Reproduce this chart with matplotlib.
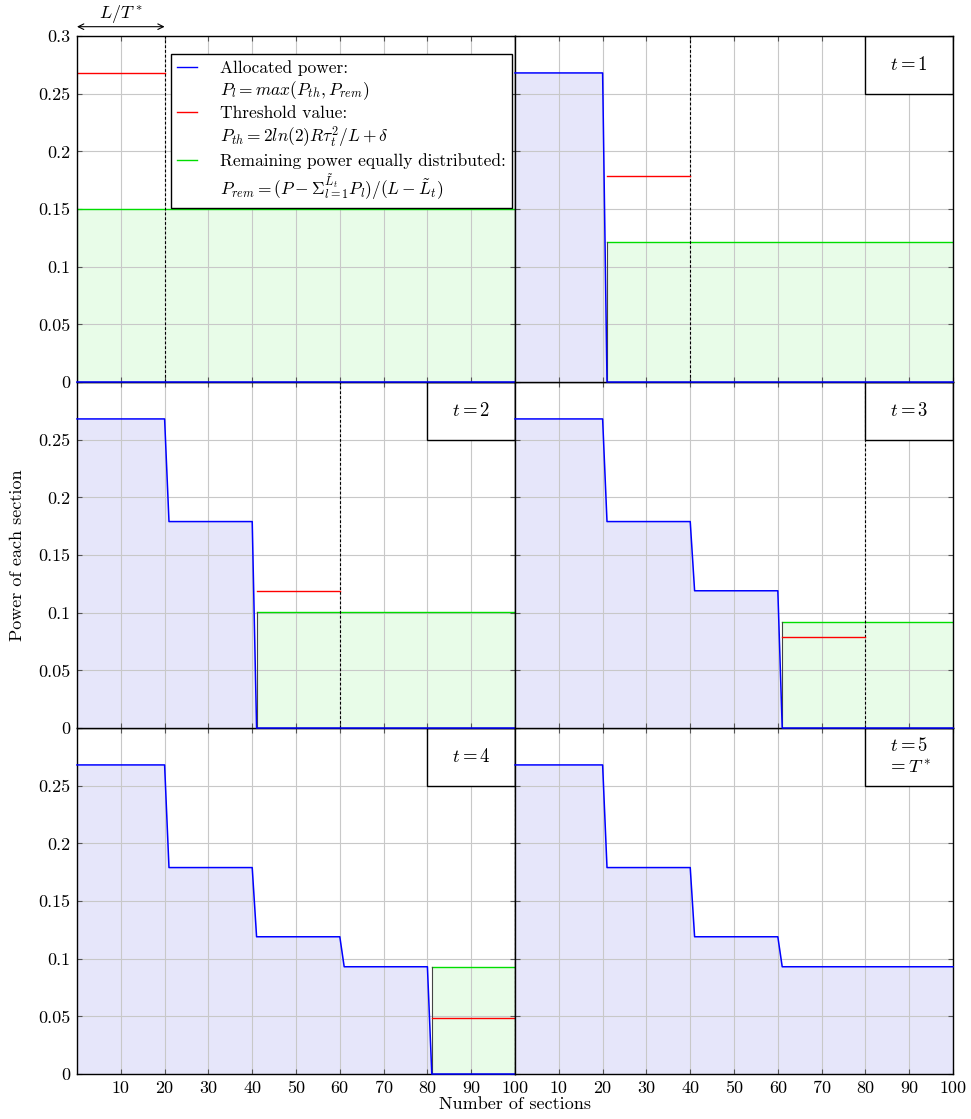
import matplotlib
matplotlib.use("Agg")
import matplotlib.pyplot as plt
import matplotlib.transforms as mtransforms
from matplotlib.lines import Line2D
from matplotlib.patches import Rectangle

plt.rcParams['font.family'] = 'serif'
plt.rcParams['font.serif'] = ['cmr10', 'DejaVu Serif']
plt.rcParams['mathtext.fontset'] = 'cm'
plt.rcParams['axes.unicode_minus'] = False
plt.rcParams['axes.formatter.use_mathtext'] = True

# section borders (every L/T* = 20 sections)
edges = [0, 20, 40, 60, 80, 100]
# allocated power of each block once fixed
p_alloc = [0.268, 0.179, 0.119, 0.093, 0.093]
# threshold and remaining power at each step t
p_th = [0.268, 0.179, 0.119, 0.079, 0.049]
p_rem = [0.150, 0.121, 0.101, 0.092, 0.093]
steps = [0, 1, 2, 3, 4, 5]
step_labels = ['', '$t = 1$', '$t = 2$', '$t = 3$', '$t = 4$', '$t = 5$\n$= T^*$']
xticks = [10, 20, 30, 40, 50, 60, 70, 80, 90, 100]
yticks = [0, 0.05, 0.1, 0.15, 0.2, 0.25, 0.3]
ytick_labels = ['0', '0.05', '0.1', '0.15', '0.2', '0.25', '0.3']

blue = '#0000ff'
red = '#ff0000'
green = '#00dd00'

fig, axes = plt.subplots(3, 2, figsize=(9.71, 11.19), dpi=100)
fig.subplots_adjust(left=0.0793, right=0.9815, top=0.9678, bottom=0.0402,
                    wspace=0, hspace=0)

for t in steps:
    ax = axes[t // 2][t % 2]
    # upper rows on top so their zero line shows over the row below
    ax.set_zorder(10 - t // 2)
    # blue: allocated power so far
    xs, ys = [], []
    for k in range(t):
        start = edges[k] + (1 if k else 0)
        xs += [start, edges[k + 1]]
        ys += [p_alloc[k], p_alloc[k]]
    if t < 5:
        start = edges[t] + (1 if t else 0)
        xs += [start, 100]
        ys += [0, 0]
        # green: remaining power
        ax.fill_between([start, 100], [p_rem[t]] * 2, 0, color='#e8fce8',
                        lw=0, zorder=0.4)
        ax.plot([start, 100], [p_rem[t]] * 2, color=green, lw=1.0, zorder=2)
        ax.plot([start, start], [0, p_rem[t]], color='#444444', lw=0.8, zorder=2)
        # red: threshold
        ax.plot([start, edges[t + 1]], [p_th[t]] * 2, color=red, lw=1.0, zorder=2.2)
        ax.axvline(edges[t + 1], color='black', ls=(0, (2.5, 1.8)), lw=0.8, zorder=2.1)
    ax.fill_between(xs, ys, 0, color='#e6e6fa', lw=0, zorder=0.3)
    ax.plot(xs, ys, color=blue, lw=1.1, zorder=6, clip_on=False)

    ax.set_xlim(0, 100)
    ax.set_ylim(0, 0.3)
    ax.set_xticks(xticks)
    ax.set_yticks(yticks)
    ax.set_axisbelow('line')
    ax.grid(True, color='#c8c8c8', lw=0.8)
    ax.tick_params(direction='in', top=True, right=True, length=3.5,
                   labelsize=13, color='#555555', pad=5)
    for sp in ax.spines.values():
        sp.set_linewidth(1.0)
        sp.set_zorder(5)
    if t % 2 == 0:
        if t == 0:
            ax.set_yticklabels(ytick_labels)
        else:
            ax.set_yticklabels(ytick_labels[:-1] + [''])
    else:
        ax.set_yticklabels([])
    if t < 4:
        ax.set_xticklabels([])
    else:
        ax.set_xticklabels([str(v) for v in xticks])

    if t > 0:
        ax.add_patch(Rectangle((80, 0.25), 20, 0.05, facecolor='white',
                               edgecolor='black', lw=1.0, zorder=4))
        ax.text(90, 0.275, step_labels[t], ha='center', va='center',
                fontsize=13.5, zorder=7, linespacing=1.25)

# legend in the first panel
ax0 = axes[0][0]
none = Line2D([], [], color='none')
handles = [Line2D([], [], color=blue, lw=1.0), none,
           Line2D([], [], color=red, lw=1.0), none,
           Line2D([], [], color=green, lw=1.0), none]
labels = ['Allocated power:',
          r'$P_l = max(P_{th}, P_{rem})$',
          'Threshold value:',
          r'$P_{th} = 2ln(2)R\tau_t^2/L + \delta$',
          'Remaining power equally distributed:',
          r'$P_{rem} = (P - \Sigma_{l=1}^{\tilde{L}_t} P_l)/(L - \tilde{L}_t)$']
leg = ax0.legend(handles, labels, loc='upper right', bbox_to_anchor=(0.993, 0.948),
                 fontsize=12.5, frameon=True, fancybox=False, edgecolor='black',
                 framealpha=1, handlelength=1.2, handletextpad=1.3,
                 labelspacing=0.2, borderpad=0.35, borderaxespad=0)
leg.get_frame().set_linewidth(1.0)
leg.set_zorder(8)

# L/T* arrow above the first block
trans = mtransforms.blended_transform_factory(ax0.transData, ax0.transAxes)
ax0.annotate('', xy=(0, 1.027), xytext=(20, 1.027), xycoords=trans, textcoords=trans,
             arrowprops=dict(arrowstyle='<->', lw=0.8, color='black',
                             shrinkA=0, shrinkB=0), annotation_clip=False)
ax0.text(10, 1.064, '$L/T^*$', transform=trans, ha='center', va='center', fontsize=13)

fig.text(0.0175, 1 - 555 / 1119, 'Power of each section', rotation=90,
         ha='center', va='center', fontsize=13)
fig.text(0.530, 0.0134, 'Number of sections', ha='center', va='center', fontsize=13)

fig.savefig('out.png', dpi=100)
